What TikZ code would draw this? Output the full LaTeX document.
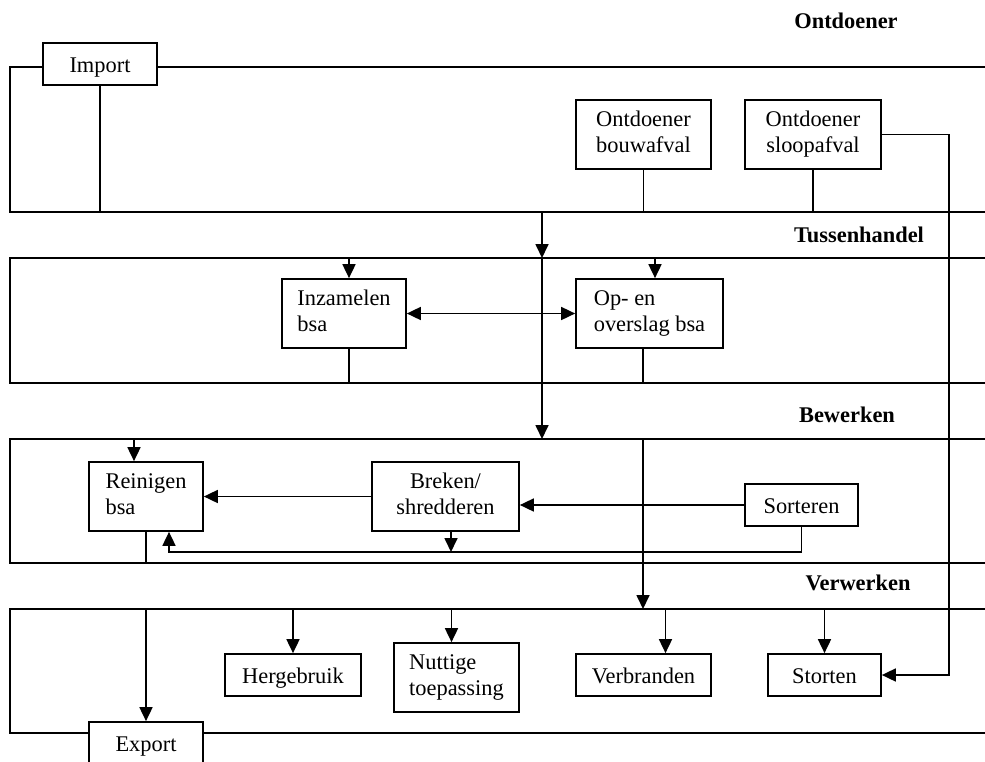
\documentclass[tikz,border=0pt]{standalone}
\usepackage{fontspec}
\setmainfont{Liberation Serif}
\usetikzlibrary{positioning,arrows.meta,calc}

\begin{document}
\begin{tikzpicture}[x=1pt,y=-1pt,>={Triangle[length=14pt,width=13pt]},line width=1.7pt,
  font=\fontsize{22.4}{26}\selectfont,
  kader/.style={draw,fill=white,inner sep=0pt,minimum width=#1},
  blok/.style={kader=#1,minimum height=42,text height=20pt,text depth=3pt},
  blok2/.style={kader=#1,minimum height=69,execute at begin node={\rule{0pt}{21pt}},
    execute at end node={\rule[-5pt]{0pt}{0pt}}},
  ttl/.style={font=\fontsize{22.4}{26}\selectfont\bfseries}]
  \useasboundingbox (0,0) rectangle (985,761);
  \coordinate (t1) at (10,67); \coordinate (b1) at (10,212);
  \coordinate (t2) at (10,258); \coordinate (b2) at (10,383);
  \coordinate (t3) at (10,439); \coordinate (b3) at (10,563);
  \coordinate (t4) at (10,609); \coordinate (b4) at (10,733);
  \foreach \i in {1,...,4} {\draw (t\i) ++(975,0) -- (t\i) -- (b\i) -- ++(975,0);}
  \node[ttl] (lOnt) at (846,21) {Ontdoener};
  \node[ttl] (lTus) at (859,235) {Tussenhandel};
  \node[ttl] (lBew) at (847,415) {Bewerken};
  \node[ttl] (lVer) at (858,583) {Verwerken};
  \node[blok=114] (imp) at (100,64) {Import};
  \node[blok2=135,align=center] (bouw) at (643.5,134.5) {Ontdoener\\bouwafval};
  \node[blok2=136,align=center] (sloop) at (813,134.5) {Ontdoener\\sloopafval};
  \node[blok2=124,align=left] (inz) at (344,313.5) {Inzamelen\\bsa};
  \node[blok2=147,align=left] (op) at (649.5,313.5) {Op- en\\overslag bsa};
  \node[blok2=114,align=left] (rein) at (146,496.5) {Reinigen\\bsa};
  \node[blok2=147,align=center] (brek) at (445.5,496.5) {Breken/\\shredderen};
  \node[blok=113] (sort) at (801.5,505) {Sorteren};
  \node[blok=136] (herg) at (293,675) {Hergebruik};
  \node[blok2=125,align=left] (nutt) at (456.5,677.5) {Nuttige\\toepassing};
  \node[blok=135] (verb) at (643.5,675) {Verbranden};
  \node[blok=113] (stort) at (824.5,675) {Storten};
  \node[blok=114] (exp) at (146,743) {Export};
  \coordinate (rx) at (949,0); \coordinate (m) at (542,0); \coordinate (v) at (643,0);
  \coordinate (fb) at (169,552);
  \coordinate (inzIn) at ([xshift=5pt]inz.north); \coordinate (inzUit) at ([xshift=5pt]inz.south);
  \coordinate (opIn) at ([xshift=5.5pt]op.north); \coordinate (opUit) at ([xshift=-6.5pt]op.south);
  \coordinate (reinIn) at ([xshift=-12pt]rein.north); \coordinate (brekUit) at ([xshift=5.5pt]brek.south);
  \coordinate (nuttIn) at ([xshift=-5pt]nutt.north); \coordinate (verbIn) at ([xshift=22pt]verb.north);
  \draw (imp.south) -- (imp.south |- b1);
  \draw (bouw.south) -- (bouw.south |- b1); \draw (sloop.south) -- (sloop.south |- b1);
  \draw[->] (sloop.east) -| (rx |- stort.east) -- (stort.east);
  \draw[->] (m |- b1) -- (m |- t2); \draw[->] (m |- t2) -- (m |- t3);
  \draw[->] (v |- t3) -- (v |- t4);
  \draw[->] (inzIn |- t2) -- (inzIn); \draw (inzUit) -- (inzUit |- b2);
  \draw[->] (opIn |- t2) -- (opIn); \draw (opUit) -- (opUit |- b2);
  \draw[<->] (inz.east) -- (op.west);
  \draw[->] (reinIn |- t3) -- (reinIn); \draw (rein.south) -- (rein.south |- b3);
  \draw[->] (brek.west) -- (rein.east);
  \draw[->] (sort.west) -- (sort.west -| brek.east);
  \draw[->] (sort.south) |- (fb) -- (fb |- rein.south);
  \draw[->] (brekUit) -- (brekUit |- fb);
  \draw[->] (herg.north |- t4) -- (herg.north); \draw[->] (nuttIn |- t4) -- (nuttIn);
  \draw[->] (verbIn |- t4) -- (verbIn); \draw[->] (stort.north |- t4) -- (stort.north);
  \draw[->] (exp.north |- t4) -- (exp.north);
\end{tikzpicture}
\end{document}
